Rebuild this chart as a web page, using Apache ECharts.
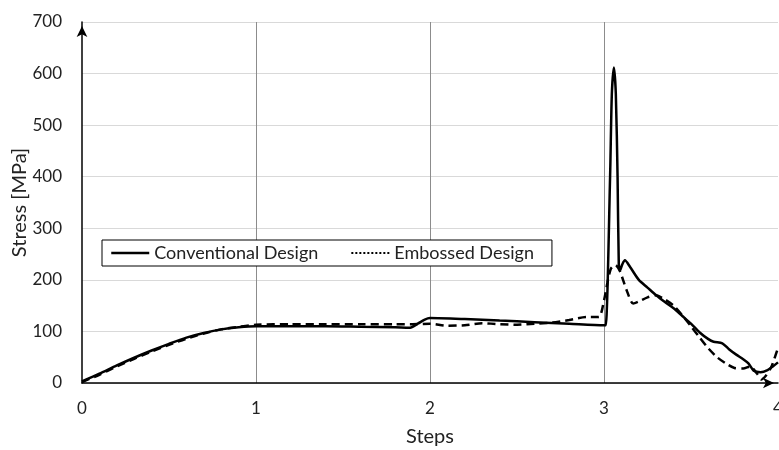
<!DOCTYPE html>
<html>
<head>
<meta charset="utf-8">
<script src="https://cdn.jsdelivr.net/npm/echarts@6/dist/echarts.min.js"></script>
<style>
html,body{margin:0;padding:0;background:#fff;}
#c{width:779px;height:450px;}
</style>
</head>
<body>
<div id="c"></div>
<script>
// ---- Data ----
var xTicks = [0, 1, 2, 3, 4];
var yTicks = [0, 100, 200, 300, 400, 500, 600, 700];
var seriesNames = ['Conventional Design', 'Embossed Design'];

var convSteps  = [0, 0.1, 0.2, 0.3, 0.4, 0.5, 0.6, 0.7, 0.8, 0.9, 1.0, 1.2, 1.4, 1.6, 1.8, 1.88, 1.93, 1.97, 2.0, 2.2, 2.4, 2.6, 2.8, 3.0, 3.01, 3.035, 3.045, 3.057, 3.068, 3.078, 3.085, 3.092, 3.105, 3.12, 3.15, 3.2, 3.25, 3.3, 3.35, 3.4, 3.45, 3.5, 3.55, 3.6, 3.63, 3.68, 3.72, 3.76, 3.8, 3.83, 3.86, 3.9, 3.94, 3.97, 4.0];
var convStress = [3, 18, 34, 49, 63, 76, 88, 97, 104, 108, 110, 110, 110, 109, 108, 107, 115, 123, 126, 124, 121, 118, 115, 112, 112, 400, 560, 612, 560, 400, 230, 218, 230, 238, 225, 200, 185, 170, 157, 145, 130, 115, 98, 85, 80, 77, 65, 55, 46, 38, 24, 21, 25, 32, 40];

var embSteps  = [0, 0.1, 0.2, 0.3, 0.4, 0.5, 0.6, 0.7, 0.8, 0.9, 1.0, 1.2, 1.4, 1.6, 1.8, 1.9, 2.0, 2.1, 2.2, 2.3, 2.4, 2.5, 2.6, 2.7, 2.8, 2.9, 2.97, 3.0, 3.02, 3.04, 3.065, 3.09, 3.13, 3.168, 3.2, 3.25, 3.3, 3.35, 3.4, 3.45, 3.5, 3.55, 3.6, 3.65, 3.7, 3.75, 3.8, 3.84, 3.88, 3.905, 3.93, 3.96, 3.98, 4.0];
var embStress = [2, 16, 32, 47, 61, 74, 86, 96, 104, 109, 113, 114, 114, 114, 114, 114, 115, 111, 112, 116, 114, 113, 115, 117, 122, 128, 128, 160, 195, 222, 229, 218, 180, 154, 158, 166, 170, 162, 150, 131, 110, 88, 67, 50, 38, 29, 28, 32, 18, 7, 14, 30, 48, 68];

function pairs(xs, ys) { return xs.map(function (x, i) { return [x, ys[i]]; }); }

var FONT = 'Lato, "Open Sans", sans-serif';
var chart = echarts.init(document.getElementById('c'), null, {renderer: 'canvas'});
chart.setOption({
  animation: false,
  backgroundColor: '#ffffff',
  color: ['#000000', '#000000'],
  grid: {left: 82, right: 1, top: 22, bottom: 67, containLabel: false, outerBoundsMode: 'none'},
  legend: {
    left: 102, top: 240,
    orient: 'horizontal',
    backgroundColor: '#ffffff',
    borderColor: '#000000', borderWidth: 1,
    borderRadius: 0,
    padding: [4, 18, 4, 8],
    itemWidth: 38, itemHeight: 14, itemGap: 32,
    textStyle: {fontFamily: FONT, fontSize: 18, color: '#222'},
    data: [
      {name: seriesNames[0], itemStyle: {color: 'rgba(0,0,0,0)', borderWidth: 0}, lineStyle: {width: 2.5, color: '#000', type: 'solid'}},
      {name: seriesNames[1], itemStyle: {color: 'rgba(0,0,0,0)', borderWidth: 0}, lineStyle: {width: 2, color: '#000', type: [2, 2]}}
    ]
  },
  xAxis: {
    type: 'value', min: xTicks[0], max: xTicks[xTicks.length - 1], interval: 1,
    name: 'Steps', nameLocation: 'middle', nameGap: 44, nameMoveOverlap: false,
    nameTextStyle: {fontFamily: FONT, fontSize: 20, color: '#222'},
    axisLine: {show: true, symbol: ['none', 'arrow'], symbolSize: [8, 11], symbolOffset: [0, -4], lineStyle: {color: '#000', width: 1.5}},
    axisTick: {show: false},
    axisLabel: {fontFamily: FONT, fontSize: 17, color: '#222', margin: 17},
    splitLine: {show: true, showMinLine: false, showMaxLine: false, lineStyle: {color: '#8c8c8c', width: 1}}
  },
  yAxis: {
    type: 'value', min: yTicks[0], max: yTicks[yTicks.length - 1], interval: 100,
    name: 'Stress [MPa]', nameLocation: 'middle', nameGap: 52, nameMoveOverlap: false,
    nameTextStyle: {fontFamily: FONT, fontSize: 20, color: '#222'},
    axisLine: {show: true, symbol: ['none', 'arrow'], symbolSize: [8, 11], symbolOffset: [0, -4], lineStyle: {color: '#000', width: 1.5}},
    axisTick: {show: false},
    axisLabel: {fontFamily: FONT, fontSize: 17, color: '#222', margin: 20},
    splitLine: {show: true, lineStyle: {color: '#d9d9d9', width: 1}}
  },
  series: [
    {
      name: seriesNames[0], type: 'line', data: pairs(convSteps, convStress),
      symbol: 'none', smooth: 0.25,
      itemStyle: {color: '#000'},
      lineStyle: {color: '#000', width: 2.5, type: 'solid'}, z: 3
    },
    {
      name: seriesNames[1], type: 'line', data: pairs(embSteps, embStress),
      symbol: 'none', smooth: 0.25,
      itemStyle: {color: '#000'},
      lineStyle: {color: '#000', width: 2.5, type: [8, 5]}, z: 2
    }
  ]
});
</script>
</body>
</html>
